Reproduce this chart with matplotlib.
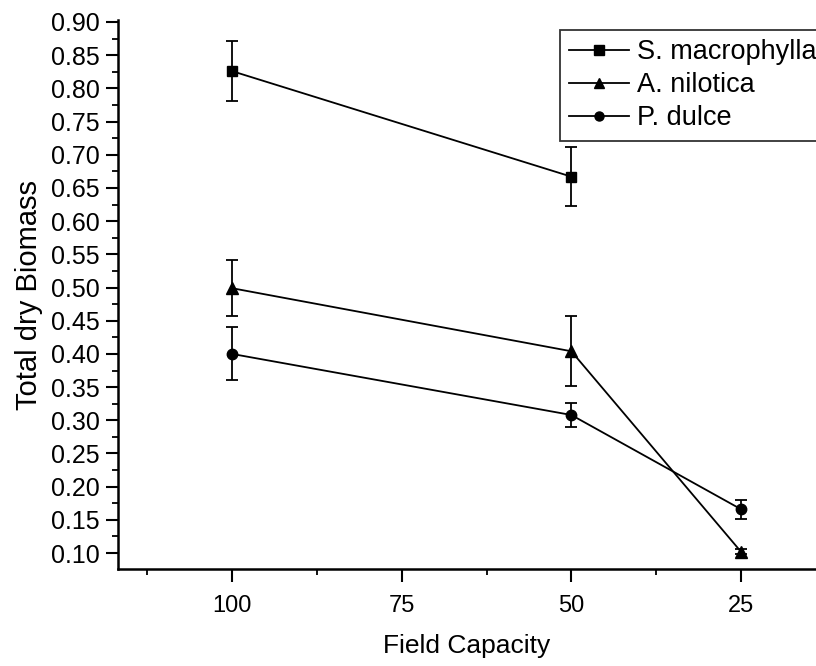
import matplotlib
matplotlib.use("Agg")
import matplotlib.pyplot as plt
from matplotlib.ticker import FixedLocator, FormatStrFormatter

plt.rcParams['font.family'] = ['Liberation Sans', 'DejaVu Sans']

field_ticks = [100, 75, 50, 25]

s_macro_x = [100, 50]
s_macro = [0.826, 0.667]
s_macro_err = [0.045, 0.044]

a_nil_x = [100, 50, 25]
a_nil = [0.499, 0.404, 0.102]
a_nil_err = [0.042, 0.053, 0.004]

p_dulce_x = [100, 50, 25]
p_dulce = [0.400, 0.308, 0.166]
p_dulce_err = [0.040, 0.018, 0.014]

fig = plt.figure(figsize=(8.16, 6.66), dpi=100)
ax = fig.add_axes([118/816, 1-569/666, 1-118/816, (569-20)/666])

common = dict(color='black', lw=1.3, capsize=4, capthick=1.3, elinewidth=1.3)
e1 = ax.errorbar(s_macro_x, s_macro, yerr=s_macro_err, marker='s', ms=7, label='S. macrophylla', **common)
e2 = ax.errorbar(a_nil_x, a_nil, yerr=a_nil_err, marker='^', ms=8, label='A. nilotica', **common)
e3 = ax.errorbar(p_dulce_x, p_dulce, yerr=p_dulce_err, marker='o', ms=7.5, label='P. dulce', **common)

ax.set_xlim(116.8, 13.95)
ax.set_ylim(0.076, 0.903)
ax.xaxis.set_major_locator(FixedLocator(field_ticks))
ax.xaxis.set_minor_locator(FixedLocator([112.5, 87.5, 62.5, 37.5]))
ax.set_xticklabels([str(t) for t in field_ticks])
ax.yaxis.set_major_locator(FixedLocator([round(0.10 + 0.05*i, 2) for i in range(17)]))
ax.yaxis.set_minor_locator(FixedLocator([round(0.125 + 0.05*i, 3) for i in range(16)]))
ax.yaxis.set_major_formatter(FormatStrFormatter('%.2f'))

for s in ['top', 'right']:
    ax.spines[s].set_visible(False)
for s in ['left', 'bottom']:
    ax.spines[s].set_linewidth(1.8)

ax.tick_params(axis='both', which='major', direction='out', length=9, width=1.5)
ax.tick_params(axis='y', which='major', labelsize=18, pad=4)
ax.tick_params(axis='x', which='major', labelsize=17, pad=10)
ax.tick_params(axis='both', which='minor', direction='out', length=4.5, width=1.3)

ax.set_xlabel('Field Capacity', fontsize=19, labelpad=12)
ax.set_ylabel('Total dry Biomass', fontsize=21, labelpad=6)

handles = [e1[0], e2[0], e3[0]]
labels = ['S. macrophylla', 'A. nilotica', 'P. dulce']
leg = ax.legend(handles, labels, loc='upper left', bbox_to_anchor=(560/816, 1-30/666),
                bbox_transform=fig.transFigure, fontsize=19.5, frameon=True,
                fancybox=False, handlelength=2.2, handletextpad=0.3,
                labelspacing=0.25, borderpad=0.35, borderaxespad=0)
leg.get_frame().set_edgecolor('black')
leg.get_frame().set_linewidth(1.3)
for h in leg.legend_handles:
    try:
        h.set_markersize(6.5)
    except Exception:
        pass

fig.savefig('out.png', dpi=100)
